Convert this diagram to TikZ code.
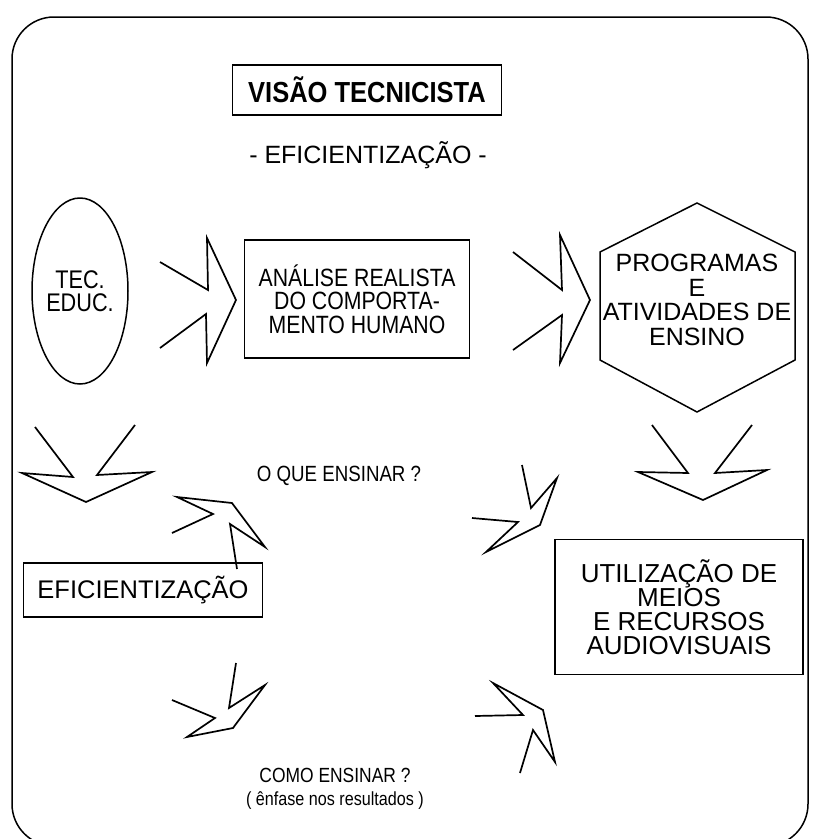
\documentclass[tikz,border=0pt]{standalone}
\usepackage{fontspec}
\setmainfont{Liberation Sans}
\newfontfamily\estreita{Liberation Sans}[FakeStretch=0.85]
\newfontfamily\titulofonte{Liberation Sans}[FakeStretch=0.88]
\usetikzlibrary{shapes.geometric}
\tikzset{
  seta/.style={line width=1.7pt,line join=miter},
  caixa/.style={draw,line width=1.3pt,inner sep=0pt,minimum width=#1},
  texto/.style={font=\fontsize{#1}{24}\selectfont,align=center},
  estreito/.style={font=\estreita\fontsize{#1}{23.5}\selectfont,align=center},
}
\begin{document}
\begin{tikzpicture}[x=1pt,y=-1pt]
    \useasboundingbox (0,0) rectangle (813,839);
    \draw[line width=1.5pt,rounded corners=42pt] (12,17) rectangle (808,846);
    % titulo
    \node[caixa=269pt,minimum height=50pt,font=\titulofonte\fontsize{29}{29}\selectfont\bfseries] (titulo) at (367,90) {VISÃO TECNICISTA};
    \node[texto=25] (sub) at (368,155) {- EFICIENTIZAÇÃO -};
    % linha de cima
    \node[draw,ellipse,line width=1.5pt,minimum width=96pt,minimum height=186pt,inner sep=0pt,estreito=25.5] (tec) at (80,291) {TEC.\\EDUC.};
    \draw[seta] (160,262)--(208,290)--(207,238)--(236,300)--(207,363)--(206,314)--(160,348);
    \node[caixa=225pt,minimum height=118pt,estreito=25] (analise) at (357,299) {ANÁLISE REALISTA\\DO COMPORTA-\\MENTO HUMANO};
    \draw[seta] (513,252)--(562,290)--(560,235)--(590,300)--(560,363)--(562,315)--(513,350);
    \draw[line width=1.5pt] (697,203)--(795,252)--(795,360)--(697,412)--(600,360)--(600,252)--cycle;
    \node[font=\fontsize{25}{24.5}\selectfont,align=center] (programas) at (697,300) {PROGRAMAS\\E\\ATIVIDADES DE\\ENSINO};
    % setas para baixo
    \draw[seta] (35,427)--(73,477)--(22,473)--(86,502)--(152,472)--(97,475)--(135,425);
    \draw[seta] (652,425)--(688,473)--(638,472)--(703,500)--(767,470)--(715,473)--(752,425);
    % meio
    \node[estreito=22] (oque) at (339,476) {O QUE ENSINAR ?};
    \draw[seta] (172,533)--(213,514)--(177,497)--(232,503)--(265,547)--(230,524)--(237,569);
    \draw[seta] (522,465)--(531,508)--(557,478)--(540,525)--(486,552)--(518,522)--(472,518);
    \node[caixa=239pt,minimum height=54pt,texto=25.5] (efic) at (143,590) {EFICIENTIZAÇÃO};
    \node[caixa=248pt,minimum height=135pt,font=\fontsize{26}{24}\selectfont,align=center] (utiliz) at (679,607) {UTILIZAÇÃO DE\\MEIOS\\E RECURSOS\\AUDIOVISUAIS};
    % embaixo
    \draw[seta] (236,663)--(229,708)--(265,685)--(233,728)--(187,737)--(215,718)--(172,700);
    \draw[seta] (475,716)--(523,715)--(493,683)--(543,710)--(555,762)--(533,730)--(520,773);
    \node[estreito=20.5] (como) at (335,789) {COMO ENSINAR ?\\{\fontsize{19}{23.5}\selectfont( ênfase nos resultados )}};
\end{tikzpicture}
\end{document}
